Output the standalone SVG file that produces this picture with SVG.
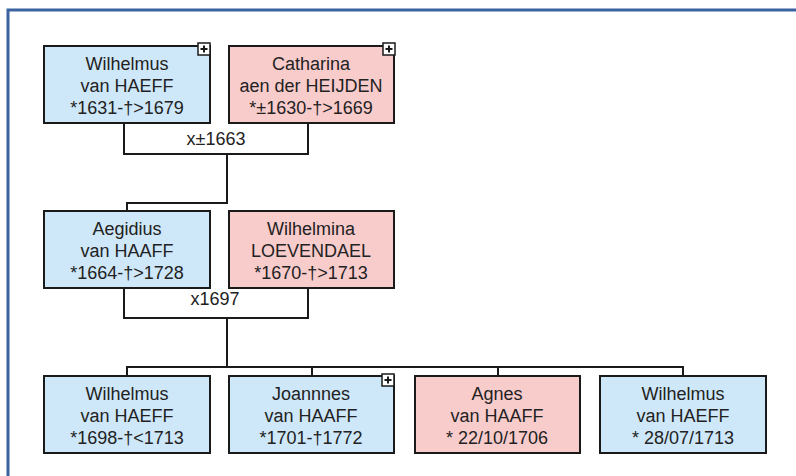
<svg xmlns="http://www.w3.org/2000/svg" width="796" height="476" viewBox="0 0 796 476">
<style>
.m{fill:#cfe8f9;stroke:#1a1a1a;stroke-width:2}
.f{fill:#f9cccc;stroke:#1a1a1a;stroke-width:2}
.t{font-family:"Liberation Sans",Arial,sans-serif;font-size:18px;fill:#222;text-anchor:middle}
.c{fill:none;stroke:#1a1a1a;stroke-width:2}
.pb{fill:#fff;stroke:#1a1a1a;stroke-width:1.5}
.pl{stroke:#1a1a1a;stroke-width:2}
</style>
<defs>
<g id="plus">
<rect class="pb" x="0" y="0" width="12" height="12"/>
<path class="pl" d="M2.5 6H9.5M6 2.5V9.5"/>
</g>
</defs>
<rect x="0" y="0" width="796" height="476" fill="#fff"/>
<path d="M8 476V10H796" fill="none" stroke="#3a63a0" stroke-width="3"/>
<g id="connectors">
<path class="c" d="M124 123V154H308V123"/>
<path class="c" d="M227 154V203H127V211"/>
<path class="c" d="M124 288V318H308V288"/>
<path class="c" d="M227 318V367"/>
<path class="c" d="M127 376V367H683V376M312 367V376M498 367V376"/>
<text class="t" x="216" y="145">x±1663</text>
<text class="t" x="215" y="305">x1697</text>
</g>
<g id="n1">
<rect class="m" x="44" y="46" width="166" height="77"/>
<text class="t" x="127" y="70">Wilhelmus</text>
<text class="t" x="127" y="92">van HAEFF</text>
<text class="t" x="127" y="114">*1631-†&gt;1679</text>
<use href="#plus" x="198" y="43"/>
</g>
<g id="n2">
<rect class="f" x="229" y="46" width="165" height="77"/>
<text class="t" x="311" y="70">Catharina</text>
<text class="t" x="311" y="92">aen der HEIJDEN</text>
<text class="t" x="311" y="114">*±1630-†&gt;1669</text>
<use href="#plus" x="383" y="43"/>
</g>
<g id="n3">
<rect class="m" x="44" y="211" width="166" height="77"/>
<text class="t" x="127" y="235">Aegidius</text>
<text class="t" x="127" y="257">van HAAFF</text>
<text class="t" x="127" y="279">*1664-†&gt;1728</text>
</g>
<g id="n4">
<rect class="f" x="229" y="211" width="165" height="77"/>
<text class="t" x="311" y="235">Wilhelmina</text>
<text class="t" x="311" y="257">LOEVENDAEL</text>
<text class="t" x="311" y="279">*1670-†&gt;1713</text>
</g>
<g id="n5">
<rect class="m" x="44" y="376" width="166" height="77"/>
<text class="t" x="127" y="400">Wilhelmus</text>
<text class="t" x="127" y="422">van HAEFF</text>
<text class="t" x="127" y="444">*1698-†&lt;1713</text>
</g>
<g id="n6">
<rect class="m" x="229" y="376" width="165" height="77"/>
<text class="t" x="311" y="400">Joannnes</text>
<text class="t" x="311" y="422">van HAAFF</text>
<text class="t" x="311" y="444">*1701-†1772</text>
<use href="#plus" x="382" y="374"/>
</g>
<g id="n7">
<rect class="f" x="415" y="376" width="165" height="77"/>
<text class="t" x="497" y="400">Agnes</text>
<text class="t" x="497" y="422">van HAAFF</text>
<text class="t" x="497" y="444">* 22/10/1706</text>
</g>
<g id="n8">
<rect class="m" x="600" y="376" width="166" height="77"/>
<text class="t" x="683" y="400">Wilhelmus</text>
<text class="t" x="683" y="422">van HAEFF</text>
<text class="t" x="683" y="444">* 28/07/1713</text>
</g>
</svg>
